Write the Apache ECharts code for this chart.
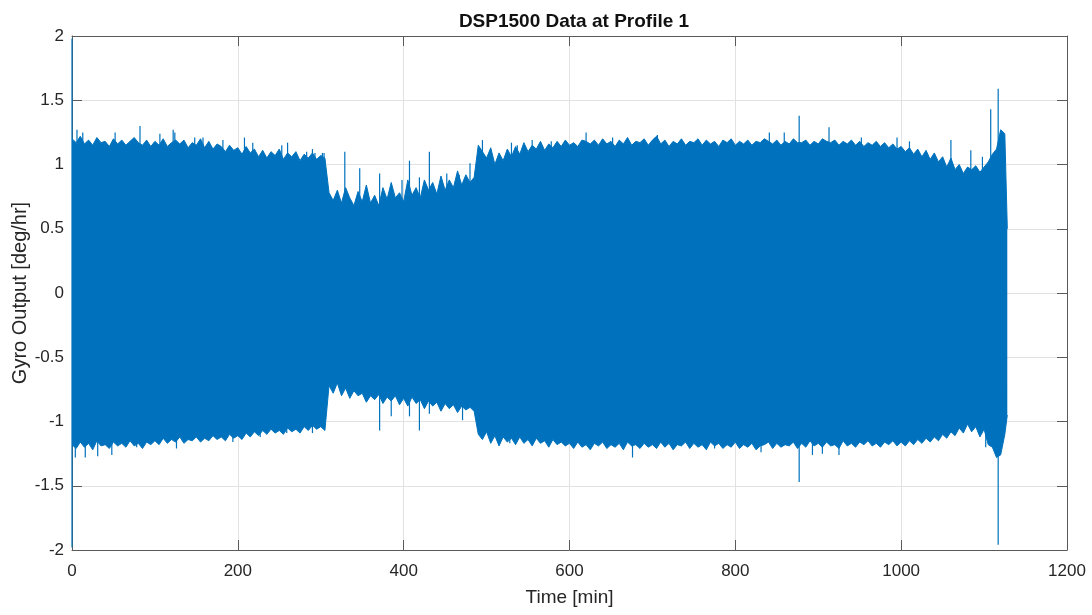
<!DOCTYPE html>
<html><head><meta charset="utf-8">
<script src="https://cdn.jsdelivr.net/npm/echarts@6/dist/echarts.min.js"></script>
<style>html,body{margin:0;padding:0;background:#fff}#c{width:1092px;height:615px}</style>
</head><body><div id="c"></div>
<script>
const chartTitle = 'DSP1500 Data at Profile 1';
const xName = 'Time [min]';
const yName = 'Gyro Output [deg/hr]';
const xTicks = {min: 0, max: 1200, step: 200};
const yTicks = {min: -2, max: 2, step: 0.5};
const sampleStep = 5; // minutes between envelope readings (t = 0, 5, ..., 1125)
const upperEnv = [
 1.20,1.17,1.22,1.16,1.19,1.15,1.21,1.17,1.18,1.14,1.20,1.16,1.19,1.15,1.18,1.21,1.17,1.15,1.19,1.14,
 1.18,1.15,1.20,1.14,1.17,1.19,1.16,1.19,1.13,1.17,1.15,1.20,1.13,1.18,1.12,1.16,1.14,1.10,1.15,1.11,
 1.13,1.08,1.14,1.09,1.12,1.06,1.11,1.05,1.10,1.07,1.12,1.04,1.09,1.06,1.10,1.03,1.08,1.05,1.09,1.04,
 1.07,1.05,0.78,0.72,0.80,0.70,0.82,0.74,0.68,0.79,0.71,0.84,0.70,0.76,0.68,0.82,0.73,0.86,0.74,0.78,
 0.71,0.88,0.76,0.82,0.74,0.88,0.80,0.86,0.77,0.91,0.80,0.88,0.82,0.95,0.84,0.92,0.86,0.90,1.15,1.10,
 1.05,1.13,1.00,1.09,1.03,1.12,1.06,1.14,1.08,1.17,1.10,1.15,1.12,1.18,1.11,1.16,1.13,1.18,1.14,1.19,
 1.15,1.17,1.14,1.19,1.18,1.16,1.19,1.15,1.20,1.16,1.18,1.14,1.19,1.16,1.21,1.15,1.18,1.17,1.20,1.15,
 1.19,1.22,1.16,1.19,1.14,1.18,1.16,1.20,1.15,1.18,1.17,1.20,1.15,1.19,1.16,1.18,1.14,1.19,1.17,1.20,
 1.15,1.18,1.16,1.19,1.15,1.18,1.17,1.20,1.18,1.16,1.19,1.15,1.18,1.16,1.20,1.17,1.17,1.19,1.15,1.18,
 1.16,1.20,1.18,1.17,1.19,1.15,1.18,1.16,1.19,1.15,1.18,1.14,1.17,1.15,1.18,1.14,1.17,1.13,1.16,1.12,
 1.14,1.10,1.13,1.08,1.12,1.06,1.11,1.04,1.09,1.02,1.06,0.98,1.05,0.96,1.00,0.93,0.98,0.96,0.99,0.94,
 0.98,1.02,1.08,1.12,1.27,1.24
];
const lowerEnv = [
 -1.18,-1.21,-1.16,-1.20,-1.17,-1.22,-1.15,-1.19,-1.18,-1.21,-1.16,-1.19,-1.17,-1.20,-1.15,-1.19,-1.17,-1.21,-1.16,-1.18,
 -1.15,-1.18,-1.13,-1.17,-1.14,-1.16,-1.12,-1.17,-1.14,-1.15,-1.12,-1.16,-1.13,-1.15,-1.11,-1.14,-1.12,-1.15,-1.10,-1.13,
 -1.11,-1.14,-1.09,-1.12,-1.08,-1.11,-1.07,-1.10,-1.06,-1.09,-1.07,-1.10,-1.05,-1.08,-1.06,-1.09,-1.04,-1.07,-1.03,-1.06,
 -1.04,-1.07,-0.72,-0.78,-0.70,-0.80,-0.74,-0.82,-0.76,-0.80,-0.78,-0.85,-0.80,-0.83,-0.79,-0.86,-0.81,-0.84,-0.80,-0.87,
 -0.82,-0.88,-0.81,-0.86,-0.83,-0.90,-0.84,-0.88,-0.85,-0.92,-0.86,-0.90,-0.87,-0.93,-0.88,-0.91,-0.89,-0.92,-1.10,-1.14,
 -1.08,-1.17,-1.11,-1.19,-1.12,-1.16,-1.13,-1.18,-1.12,-1.17,-1.14,-1.19,-1.13,-1.17,-1.15,-1.20,-1.14,-1.18,-1.16,-1.19,
 -1.17,-1.21,-1.16,-1.20,-1.18,-1.22,-1.17,-1.19,-1.16,-1.21,-1.18,-1.20,-1.17,-1.22,-1.16,-1.19,-1.18,-1.21,-1.17,-1.20,
 -1.18,-1.21,-1.16,-1.20,-1.17,-1.22,-1.18,-1.19,-1.16,-1.21,-1.17,-1.20,-1.18,-1.22,-1.16,-1.19,-1.17,-1.21,-1.18,-1.20,
 -1.16,-1.21,-1.18,-1.20,-1.17,-1.22,-1.19,-1.18,-1.16,-1.21,-1.17,-1.20,-1.18,-1.19,-1.16,-1.21,-1.17,-1.20,-1.15,-1.19,
 -1.17,-1.20,-1.16,-1.19,-1.18,-1.21,-1.15,-1.19,-1.17,-1.20,-1.16,-1.18,-1.15,-1.19,-1.17,-1.20,-1.16,-1.18,-1.15,-1.19,
 -1.16,-1.19,-1.15,-1.18,-1.14,-1.17,-1.13,-1.16,-1.12,-1.15,-1.10,-1.13,-1.08,-1.11,-1.05,-1.09,-1.02,-1.08,-1.04,-1.12,
 -1.06,-1.18,-1.20,-1.28,-1.26,-1.10
];
const endTime = 1128, endUpper = 0.50, endLower = -0.95;
// isolated spikes: [minute, value]
const spikeTimes  = [0, 0, 6, 13, 52, 82, 106, 122, 124, 148, 158, 182, 208, 218, 253, 260, 283, 290, 293, 302, 304,
  329, 347, 371, 398, 407, 419, 431, 452, 467, 480, 495, 530, 537, 555, 578, 594, 620, 652, 706, 841, 859, 877, 913, 952,
  995, 1010, 1060, 1084, 1098, 1108, 1117,
  4, 16, 31, 48, 78, 126, 163, 194, 227, 259, 290, 371, 385, 407, 419, 431, 471, 504, 528, 676, 775, 831, 877, 893, 905,
  925, 1102, 1117];
const spikeValues = [1.98, -1.98, 1.27, 1.25, 1.25, 1.30, 1.24, 1.27, 1.25, 1.21, 1.21, 1.19, 1.21, 1.17, 1.15, 1.17, 1.10, 1.12, 1.09, 1.09, 1.09,
  1.10, 0.97, 0.93, 0.88, 1.03, 0.90, 1.10, 0.93, 0.92, 1.01, 1.19, 1.17, 1.15, 1.19, 1.18, 1.18, 1.25, 1.21, 1.23, 1.25, 1.25, 1.38, 1.29, 1.21,
  1.21, 1.18, 1.19, 1.11, 1.06, 1.43, 1.59,
  -1.28, -1.28, -1.27, -1.26, -1.20, -1.21, -1.14, -1.16, -1.12, -1.09, -1.09, -1.07, -0.96, -0.96, -1.07, -0.94, -0.99, -1.12, -1.17, -1.28, -1.21, -1.24, -1.47, -1.26, -1.25,
  -1.26, -1.20, -1.96];

const blue = '#0072BD';
const font = '"Liberation Sans", Arial, Helvetica, sans-serif';
const upperData = upperEnv.map((v, i) => [i * sampleStep, v]).concat([[endTime, endUpper]]);
const lowerData = lowerEnv.map((v, i) => [i * sampleStep, v]).concat([[endTime, endLower]]);
const spikeData = spikeTimes.map((t, i) => [t, spikeValues[i]]);

const axisCol = '#5a5a5a', textCol = '#262626', gridCol = '#e2e2e2';
function xAx(pos, main) {
  return {
    type: 'value', position: pos, min: xTicks.min, max: xTicks.max, interval: xTicks.step,
    axisLine: {show: true, onZero: false, lineStyle: {color: axisCol, width: 1}},
    axisTick: {show: true, inside: true, length: 10, lineStyle: {color: axisCol}},
    axisLabel: {show: main, fontSize: 17, color: textCol, margin: 13, fontFamily: font,
      formatter: v => String(v)},
    splitLine: {show: main, lineStyle: {color: gridCol, width: 1}},
    name: main ? xName : '', nameLocation: 'middle', nameGap: 38, nameMoveOverlap: false,
    nameTextStyle: {fontSize: 19, color: textCol, fontFamily: font}
  };
}
function yAx(pos, main) {
  return {
    type: 'value', position: pos, min: yTicks.min, max: yTicks.max, interval: yTicks.step,
    axisLine: {show: true, onZero: false, lineStyle: {color: axisCol, width: 1}},
    axisTick: {show: true, inside: true, length: 10, lineStyle: {color: axisCol}},
    axisLabel: {show: main, fontSize: 17, color: textCol, margin: 8, fontFamily: font,
      formatter: v => String(v)},
    splitLine: {show: main, lineStyle: {color: gridCol, width: 1}},
    name: main ? yName : '', nameLocation: 'middle', nameGap: 42, nameMoveOverlap: false,
    nameTextStyle: {fontSize: 20, color: textCol, fontFamily: font}
  };
}
const chart = echarts.init(document.getElementById('c'), null, {renderer: 'canvas'});
chart.setOption({
  animation: false,
  backgroundColor: '#fff',
  title: {text: chartTitle, left: 569, top: 7, textAlign: 'center',
    textStyle: {fontSize: 19, fontWeight: 'bold', color: '#111', fontFamily: font}},
  grid: {left: 72, top: 36, right: 25, bottom: 65, containLabel: false, outerBoundsMode: 'none'},
  xAxis: [xAx('bottom', true), xAx('top', false)],
  yAxis: [yAx('left', true), yAx('right', false)],
  series: [
    {type: 'line', data: upperData, symbol: 'none', silent: true,
     lineStyle: {color: blue, width: 1}, itemStyle: {color: blue},
     areaStyle: {color: blue, opacity: 1, origin: 0}},
    {type: 'line', data: lowerData, symbol: 'none', silent: true,
     lineStyle: {color: blue, width: 1}, itemStyle: {color: blue},
     areaStyle: {color: blue, opacity: 1, origin: 0}},
    {type: 'bar', data: spikeData, barWidth: 1.2, barGap: '-100%', silent: true,
     itemStyle: {color: blue}}
  ]
});
</script></body></html>
